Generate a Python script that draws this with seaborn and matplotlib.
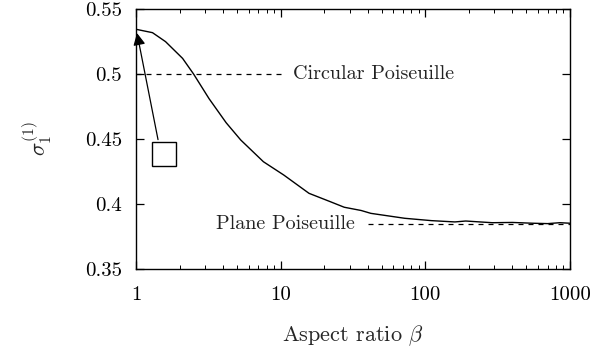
import numpy as np
import pandas as pd
import matplotlib
matplotlib.use('Agg')
import matplotlib.pyplot as plt
import seaborn as sns
from matplotlib.ticker import FixedLocator, FixedFormatter, NullFormatter, LogLocator

# data
beta = [1, 1.3, 1.6, 2.1, 2.5, 3.2, 4.2, 5.3, 7.6, 10.5, 15.7, 22, 27.5, 36, 42,
        72, 110, 160, 190, 290, 400, 550, 700, 850, 1000]
sigma = [0.5344, 0.5318, 0.5249, 0.512, 0.5, 0.481, 0.4625, 0.4492, 0.4325,
         0.4223, 0.4082, 0.4018, 0.3975, 0.3950, 0.3928, 0.3890, 0.3872, 0.3862,
         0.3869, 0.3856, 0.3858, 0.3852, 0.3849, 0.3856, 0.3852]
circular_value = 0.5
plane_value = 0.3844
x_ticks = [1, 10, 100, 1000]
x_ticklabels = ['1', '10', '100', '1000']
y_ticks = [0.35, 0.4, 0.45, 0.5, 0.55]
y_ticklabels = ['0.35', '0.4', '0.45', '0.5', '0.55']

df = pd.DataFrame({'beta': beta, 'sigma': sigma})

sns.set_style('ticks')
plt.rcParams['font.family'] = ['cmr10', 'DejaVu Serif']
plt.rcParams['mathtext.fontset'] = 'cm'
plt.rcParams['axes.formatter.use_mathtext'] = True

fig = plt.figure(figsize=(6.09, 3.53), dpi=100)
ax = fig.add_axes([0.2233, 0.238, 0.7127, 0.7365])

sns.lineplot(data=df, x='beta', y='sigma', ax=ax, color='black', linewidth=1.0)

# reference lines
ax.plot([1, 10], [circular_value, circular_value], color='black', lw=0.9,
        linestyle=(0, (4, 4)))
ax.plot([40, 1000], [plane_value, plane_value], color='black', lw=0.9,
        linestyle=(0, (4, 4)))
ax.text(12.1, circular_value, 'Circular Poiseuille', fontsize=14.5,
        va='center', ha='left', color='#222222')
ax.text(32.5, plane_value, 'Plane Poiseuille', fontsize=14.5,
        va='center', ha='right', color='#222222')

# arrow + box
ax.annotate('', xy=(1.016, 0.5315), xytext=(1.42, 0.4495),
            arrowprops=dict(arrowstyle='-|>', color='black', lw=0.9,
                            mutation_scale=18, shrinkA=0, shrinkB=0))
ax.plot([1.56], [0.4385], marker='s', ms=17.3, mfc='white', mec='black',
        mew=1.0, linestyle='none')

ax.set_xscale('log')
ax.set_xlim(1, 1000)
ax.set_ylim(0.35, 0.55)
ax.xaxis.set_major_locator(FixedLocator(x_ticks))
ax.xaxis.set_major_formatter(FixedFormatter(x_ticklabels))
ax.xaxis.set_minor_locator(LogLocator(base=10, subs=np.arange(2, 10)))
ax.xaxis.set_minor_formatter(NullFormatter())
ax.yaxis.set_major_locator(FixedLocator(y_ticks))
ax.yaxis.set_major_formatter(FixedFormatter(y_ticklabels))

ax.tick_params(which='both', direction='in', top=True, right=True,
               labelsize=15, colors='black')
ax.tick_params(axis='y', pad=10)
ax.tick_params(axis='x', pad=12)
ax.tick_params(which='major', length=6, width=0.9)
ax.tick_params(which='minor', length=3, width=0.7)
for s in ax.spines.values():
    s.set_linewidth(1.0)
    s.set_color('black')

ax.set_xlabel(r'Aspect ratio $\beta$', fontsize=16, labelpad=14)
ax.set_ylabel(r'$\sigma_1^{(1)}$', fontsize=16, labelpad=22)

fig.savefig('out.png', dpi=100)
